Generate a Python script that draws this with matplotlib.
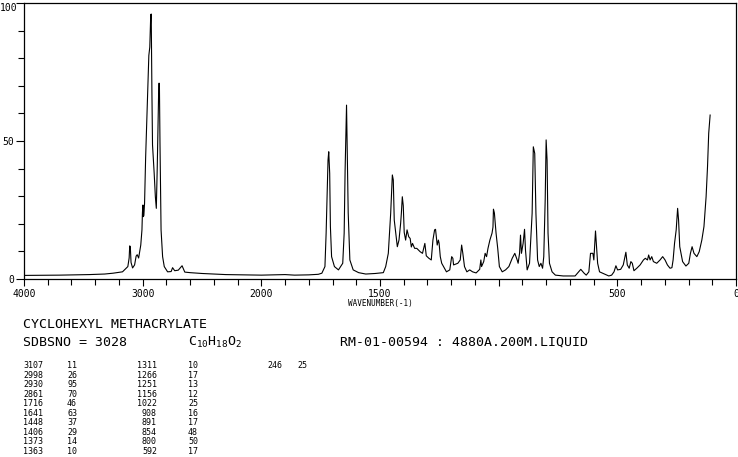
import matplotlib
matplotlib.use('Agg')
import matplotlib.pyplot as plt
import numpy as np
from matplotlib.ticker import FixedLocator, NullFormatter

plt.rcParams['font.family'] = ['DejaVu Sans Mono']
plt.rcParams['mathtext.default'] = 'regular'

# spectrum (wavenumber cm-1, relative intensity)
wavenumber = [
    4000, 3700, 3450, 3320, 3250, 3170, 3125, 3114, 3109, 3104, 3098, 3085,
    3068, 3055, 3046, 3034, 3016, 3006, 3002, 2998, 2994, 2990, 2984, 2975,
    2960, 2948, 2940, 2932, 2928, 2922, 2917, 2903, 2893, 2885, 2877, 2864,
    2859, 2854, 2845, 2832, 2818, 2790, 2760, 2748, 2730, 2700, 2668, 2645,
    2600, 2500, 2300, 2150, 2000, 1900, 1860, 1800, 1760, 1745, 1732, 1727,
    1722, 1719, 1716, 1712, 1709, 1704, 1692, 1675, 1657, 1651, 1647, 1641,
    1637, 1634, 1627, 1613, 1590, 1560, 1520, 1486, 1476, 1465, 1455, 1448,
    1444, 1440, 1434, 1427, 1420, 1413, 1410, 1406, 1402, 1398, 1392, 1386,
    1379, 1373, 1368, 1363, 1354, 1345, 1331, 1321, 1311, 1305, 1294, 1284,
    1277, 1270, 1266, 1259, 1254, 1251, 1246, 1240, 1220, 1206, 1198, 1193,
    1190, 1172, 1162, 1156, 1151, 1144, 1134, 1122, 1110, 1095, 1080, 1075,
    1072, 1063, 1057, 1051, 1045, 1037, 1028, 1024, 1022, 1018, 1011, 1004,
    997, 985, 971, 957, 943, 932, 922, 918, 912, 908, 904, 897, 891, 887,
    880, 870, 859, 854, 848, 843, 836, 829, 822, 815, 810, 804, 800, 796,
    792, 786, 775, 761, 728, 678, 668, 654, 640, 631, 620, 613, 603, 599,
    596, 592, 588, 583, 575, 552, 536, 524, 514, 506, 499, 486, 475, 468,
    464, 458, 450, 443, 437, 430, 418, 404, 390, 382, 373, 368, 362, 355,
    348, 334, 320, 309, 299, 289, 278, 270, 265, 259, 252, 246, 242, 237,
    225, 211, 199, 192, 185, 177, 165, 155, 144, 135, 126, 120, 115, 109,
]
intensity = [
    1.3, 1.4, 1.6, 1.8, 2.1, 2.6, 4.5, 7.6, 12.0, 11.6, 6.0, 4.0,
    5.1, 8.3, 8.8, 7.6, 12.3, 17.8, 24.0, 26.8, 22.6, 23.0, 27.5, 44.0,
    64.9, 81.0, 84.0, 95.7, 96.0, 67.4, 48.6, 38.3, 29.8, 25.6, 40.7, 70.9,
    70.9, 49.2, 17.8, 8.1, 4.5, 2.6, 2.7, 4.1, 3.0, 3.2, 4.8, 2.5,
    2.3, 2.0, 1.6, 1.5, 1.4, 1.6, 1.4, 1.5, 1.7, 2.1, 4.5, 16.6,
    33.4, 43.1, 46.1, 38.3, 19.0, 8.1, 4.5, 3.3, 5.7, 16.6, 39.5, 63.0,
    40.7, 24.0, 6.9, 3.3, 2.3, 1.8, 2.0, 2.3, 4.5, 9.3, 23.8, 37.7,
    35.9, 21.4, 16.9, 11.7, 14.1, 20.2, 23.8, 29.8, 26.6, 16.9, 14.1, 17.8,
    15.3, 14.7, 11.6, 12.9, 11.1, 11.1, 9.9, 9.3, 12.9, 8.4, 7.5, 6.9,
    14.1, 17.8, 18.0, 12.3, 14.1, 13.0, 8.1, 5.7, 2.6, 3.3, 8.1, 7.5,
    5.1, 5.7, 6.9, 12.3, 9.3, 4.5, 2.6, 3.3, 2.6, 2.2, 3.5, 6.9,
    4.5, 6.3, 9.3, 8.1, 11.1, 14.1, 16.6, 18.8, 25.3, 23.9, 16.6, 11.1,
    4.5, 2.6, 3.3, 4.5, 7.5, 9.3, 6.9, 5.7, 9.3, 15.9, 9.3, 12.9, 18.0, 10.5,
    3.3, 5.7, 23.8, 47.9, 45.5, 23.8, 6.9, 4.5, 5.7, 3.9, 8.1, 28.6, 50.4, 43.1,
    16.6, 5.7, 2.6, 1.4, 1.1, 1.1, 2.1, 3.5, 2.1, 1.4, 2.6, 9.3, 9.3, 6.9,
    11.7, 17.4, 12.0, 5.7, 2.6, 1.7, 1.1, 1.4, 2.6, 4.8, 3.3, 3.5, 5.1, 8.1,
    9.7, 5.1, 3.9, 6.3, 5.7, 3.0, 3.9, 5.1, 6.9, 7.5, 6.9, 8.7, 6.9, 8.1,
    6.3, 5.7, 6.9, 8.1, 6.9, 5.1, 3.9, 4.1, 6.9, 12.9, 17.8, 25.6, 21.4, 11.7,
    6.3, 4.7, 5.7, 9.3, 11.7, 9.3, 8.1, 9.9, 14.1, 19.0, 29.8, 40.7, 52.8, 59.4,
]

# peak listing printed under the chart
peak_wn_a = ['3107', '2998', '2930', '2861', '1716', '1641', '1448', '1406', '1373', '1363']
peak_int_a = ['11', '26', '95', '70', '46', '63', '37', '29', '14', '10']
peak_wn_b = ['1311', '1266', '1251', '1156', '1022', '908', '891', '854', '800', '592']
peak_int_b = ['10', '17', '13', '12', '25', '16', '17', '48', '50', '17']
peak_wn_c = ['246']
peak_int_c = ['25']

compound = 'CYCLOHEXYL METHACRYLATE'
sdbs_no = 'SDBSNO = 3028'
formula = 'C$_{10}$H$_{18}$O$_{2}$'
conditions = 'RM-01-00594 : 4880A.200M.LIQUID'

x_major = [4000, 3000, 2000, 1500, 1000, 500, 0]
x_major_labels = ['4000', '3000', '2000', '1500', '', '500', '0']
y_major = [0, 50, 100]
y_major_labels = ['0', '50', '']


def fwd(w):
    w = np.asarray(w, dtype=float)
    return np.where(w > 2000, 2000 + (w - 2000) / 2, w)


def inv(u):
    u = np.asarray(u, dtype=float)
    return np.where(u > 2000, 2000 + (u - 2000) * 2, u)


W, H = 738, 457
fig = plt.figure(figsize=(W / 100, H / 100), dpi=100)
ax = fig.add_axes([24 / W, 1 - 279 / H, 712 / W, 276 / H])

ax.plot(wavenumber, intensity, color='black', lw=0.8)
ax.set_xscale('function', functions=(fwd, inv))
ax.set_xlim(4000, 0)
ax.set_ylim(0, 100)

ax.xaxis.set_major_locator(FixedLocator(x_major))
ax.set_xticklabels(x_major_labels)
minor = list(range(4000, 2000, -200)) + list(range(2000, -1, -100))
ax.xaxis.set_minor_locator(FixedLocator(minor))
ax.xaxis.set_minor_formatter(NullFormatter())
ax.yaxis.set_major_locator(FixedLocator(y_major))
ax.set_yticklabels(y_major_labels)
ax.yaxis.set_minor_locator(FixedLocator(range(0, 101, 10)))

ax.tick_params(axis='both', which='both', direction='out', width=0.8,
               color='black', labelsize=7)
ax.tick_params(axis='x', which='major', length=5, pad=2)
ax.tick_params(axis='x', which='minor', length=4)
ax.tick_params(axis='y', which='major', length=6, pad=1)
ax.tick_params(axis='y', which='minor', length=4)
for s in ax.spines.values():
    s.set_linewidth(0.9)
ax.set_xlabel('WAVENUMBER(-1)', fontsize=5.5, labelpad=0)
# top y label sits at the figure edge, keep it inside
ax.text(-7 / 712, 1.0, '100', transform=ax.transAxes, ha='right', va='top',
        fontsize=7)

# header text
fig.text(23 / W, 1 - 324 / H, compound, fontsize=9.5, va='center')
fig.text(23 / W, 1 - 342 / H, sdbs_no, fontsize=9.5, va='center')
fig.text(188 / W, 1 - 342 / H, formula, fontsize=9.5, va='center')
fig.text(340 / W, 1 - 342 / H, conditions, fontsize=9.5, va='center')

# peak table
y0, dy = 366, 9.45
for i in range(len(peak_wn_a)):
    y = 1 - (y0 + i * dy) / H
    fig.text(23 / W, y, peak_wn_a[i], fontsize=6, va='center')
    fig.text(67 / W, y, peak_int_a[i], fontsize=6, va='center')
    fig.text(157 / W, y, peak_wn_b[i], fontsize=6, va='center', ha='right')
    fig.text(188 / W, y, peak_int_b[i], fontsize=6, va='center')
for i in range(len(peak_wn_c)):
    y = 1 - (y0 + i * dy) / H
    fig.text(267 / W, y, peak_wn_c[i], fontsize=6, va='center')
    fig.text(297 / W, y, peak_int_c[i], fontsize=6, va='center')

fig.savefig('out.png', dpi=100)
